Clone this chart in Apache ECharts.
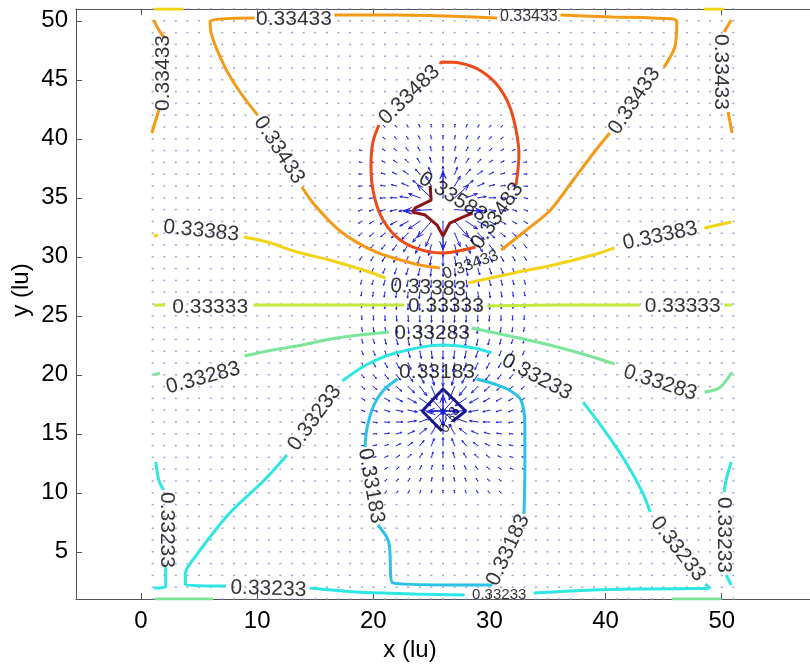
<!DOCTYPE html>
<html>
<head>
<meta charset="utf-8">
<script src="https://cdn.jsdelivr.net/npm/echarts@6/dist/echarts.min.js"></script>
<style>html,body{margin:0;padding:0;background:#fff}#chart{width:810px;height:666px}</style>
</head>
<body>
<div id="chart"></div>
<script>
// axis ticks
var xTicks = [0, 10, 20, 30, 40, 50];
var yTicks = [5, 10, 15, 20, 25, 30, 35, 40, 45, 50];
// lattice nodes of the quiver grid
var gridX = [1,2,3,4,5,6,7,8,9,10,11,12,13,14,15,16,17,18,19,20,21,22,23,24,25,26,27,28,29,30,31,32,33,34,35,36,37,38,39,40,41,42,43,44,45,46,47,48,49,50,51];
var gridY = [1,2,3,4,5,6,7,8,9,10,11,12,13,14,15,16,17,18,19,20,21,22,23,24,25,26,27,28,29,30,31,32,33,34,35,36,37,38,39,40,41,42,43,44,45,46,47,48,49,50,51];

// contour lines per level, split where the inline labels sit
var lines33133 = [
  [[26.85,16.08],[27.95,16.93],[26.0,18.80],[24.21,16.93],[25.91,15.24]]
];
var lines33183 = [
  [[22.09,19.64],[20.90,18.71],[20.05,17.44],[19.46,15.49],[19.29,13.88]],
  [[20.39,7.27],[21.33,5.83],[21.67,2.36],[27.02,2.19],[30.25,2.19]],
  [[32.97,8.20],[33.05,11.93],[33.05,15.75],[32.71,17.86],[31.69,18.71],[30.42,19.22],[28.89,19.64]]
];
var lines33233 = [
  [[7.31,2.10],[3.82,2.19],[3.82,3.20],[4.33,4.14],[7.48,8.12],[10.62,11.08],[12.57,13.20]],
  [[17.33,19.47],[19.37,20.83],[21.92,21.85],[25.91,22.53],[28.72,22.27],[30.16,21.85]],
  [[38.06,17.69],[39.76,15.49],[41.63,12.78],[43.16,10.07],[43.84,8.37]],
  [[48.60,2.27],[48.94,1.93],[43.16,1.85],[38.91,1.76],[33.81,1.51]],
  [[27.87,1.34],[23.62,1.42],[18.52,1.59],[14.53,1.93]],
  [[1.27,12.61],[1.53,11.08],[1.95,10.24]],
  [[2.12,3.71],[2.12,2.02],[1.10,1.93]],
  [[50.81,12.61],[50.38,11.08],[50.21,10.07]],
  [[50.38,3.03],[50.81,2.19]]
];
var lines33283 = [
  [[1.10,19.98],[1.61,20.15]],
  [[8.92,21.59],[11.30,22.10],[13.42,22.44],[16.82,23.12],[21.33,23.63]],
  [[28.46,23.97],[32.12,23.20],[35.51,22.44],[38.91,21.51],[40.78,20.92]],
  [[48.51,18.54],[49.79,18.88],[50.89,20.24]],
  [[1.19,1],[6.2,1]],
  [[45.7,1],[49.96,1]]
];
var lines33333 = [
  [[1.10,25.92],[2.04,25.92]],
  [[9.69,25.92],[15.12,25.92],[22.68,25.92]],
  [[29.82,25.83],[35.51,25.92],[42.99,25.92]],
  [[50.21,25.92],[50.89,25.92]]
];
var lines33383 = [
  [[1.10,31.76],[1.45,31.85]],
  [[8.84,31.68],[10.88,31.25],[13.42,30.41],[16.23,29.73],[19.12,28.88],[21.07,28.20]],
  [[28.12,27.78],[32.12,28.63],[35.51,29.31],[38.91,30.15],[40.78,30.75]],
  [[48.51,32.44],[50.81,32.95]],
  [[1.1,51],[3.65,51]],
  [[48.5,51],[50.2,51]]
];
var lines33433 = [
  [[16.65,50.49],[21.92,50.49],[26.17,50.41],[30.67,50.24]],
  [[36.11,50.49],[40.61,50.32],[44.01,50.24],[46.13,49.98],[45.96,47.78],[45.03,46.08]],
  [[40.36,40.49],[39.17,39.05],[37.21,36.51],[35.26,33.97],[32.97,32.10],[31.01,30.58]],
  [[25.74,29.05],[23.62,29.39],[20.22,30.41],[17.25,32.10],[14.95,34.39],[13.85,35.92]],
  [[10.03,42.02],[8.58,43.88],[7.22,46.08],[6.03,48.97],[5.95,49.98],[9.77,50.24]],
  [[1.10,50.07],[1.53,49.22],[1.95,48.63]],
  [[1.53,42.44],[0.93,40.49]],
  [[50.81,50.07],[50.21,49.05]],
  [[50.55,42.27],[50.89,40.49]]
];
var lines33483 = [
  [[25.74,46.34],[25.91,46.51],[27.44,46.42],[29.14,45.83],[30.67,44.56],[31.69,42.86],[32.29,40.75],[32.54,38.63],[32.29,36.08]],
  [[28.80,30.83],[25.91,30.32],[23.62,30.75],[21.92,31.76],[20.65,33.47],[19.97,35.66],[19.80,37.78],[19.97,39.73],[20.48,41.17]]
];
var lines33583 = [
  [[24.89,36.0],[24.98,34.81],[23.62,34.14],[23.36,33.80],[24.47,33.54],[25.49,32.69],[26.0,31.76],[26.59,32.86],[27.70,33.37],[28.55,33.71]]
];

// inline labels: x, y, rotation, text, font size
var contourLabels = [
  [13.17,50.15,0,'0.33433',21], [33.39,50.32,0,'0.33433',16], [11.89,39.05,-57,'0.33433',21],
  [42.48,43.20,56,'0.33433',21], [28.38,29.31,20,'0.33433',16], [1.95,45.58,90,'0.33433',21],
  [49.96,45.66,-90,'0.33433',21],
  [23.11,43.71,44,'0.33483',21], [30.67,33.46,55,'0.33483',21],
  [26.85,35.07,-32,'0.33583',21],
  [5.18,32.19,-6,'0.33383',21], [24.72,27.36,-3,'0.33383',21], [44.69,31.76,12,'0.33383',21],
  [5.95,25.75,0,'0.33333',21], [26.25,25.83,0,'0.33333',21], [46.64,25.83,0,'0.33333',21],
  [5.35,19.73,15,'0.33283',21], [25.06,23.54,0,'0.33283',21], [44.69,19.31,-18,'0.33283',21],
  [10.96,1.85,-2,'0.33233',21], [30.84,1.34,0,'0.33233',15], [14.95,16.34,54,'0.33233',21],
  [34.07,19.81,-28,'0.33233',21], [46.22,5.24,-52,'0.33233',21], [2.21,6.85,-90,'0.33233',21],
  [50.21,6.42,-90,'0.33233',21],
  [25.49,20.24,0,'0.33183',21], [19.80,10.58,-80,'0.33183',21], [31.61,5.15,65,'0.33183',21],
  [26.59,16.17,60,'0.33',14]
];

// visible velocity arrows: x, y, u, v (lu); remaining nodes are near-zero
var arrows = [
  [21,41,-0.14,0.13],[22,41,-0.13,0.16],[23,41,-0.11,0.19],[24,41,-0.08,0.22],[25,41,-0.04,0.24],[26,41,0,0.24],[27,41,0.04,0.24],[28,41,0.08,0.22],[29,41,0.11,0.19],[30,41,0.13,0.16],[31,41,0.14,0.13],
  [21,40,-0.18,0.14],[22,40,-0.17,0.18],[23,40,-0.15,0.22],[24,40,-0.11,0.26],[25,40,-0.06,0.29],[26,40,0,0.30],[27,40,0.06,0.29],[28,40,0.11,0.26],[29,40,0.15,0.22],[30,40,0.17,0.18],[31,40,0.18,0.14],
  [21,39,-0.22,0.14],[22,39,-0.22,0.19],[23,39,-0.20,0.25],[24,39,-0.16,0.31],[25,39,-0.09,0.35],[26,39,0,0.37],[27,39,0.09,0.35],[28,39,0.16,0.31],[29,39,0.20,0.25],[30,39,0.22,0.19],[31,39,0.22,0.14],
  [21,38,-0.27,0.13],[22,38,-0.28,0.19],[23,38,-0.27,0.27],[24,38,-0.23,0.37],[25,38,-0.14,0.45],[26,38,0,0.49],[27,38,0.14,0.45],[28,38,0.23,0.37],[29,38,0.27,0.27],[30,38,0.28,0.19],[31,38,0.27,0.13],
  [21,37,-0.33,0.10],[22,37,-0.36,0.17],[23,37,-0.40,0.28],[24,37,-0.37,0.43],[25,37,-0.24,0.60],[26,37,0,0.68],[27,37,0.24,0.60],[28,37,0.37,0.43],[29,37,0.40,0.28],[30,37,0.36,0.17],[31,37,0.33,0.10],
  [21,36,-0.38,0.05],[22,36,-0.46,0.12],[23,36,-0.55,0.24],[24,36,-0.60,0.47],[25,36,-0.48,0.83],[26,36,0,1.07],[27,36,0.48,0.83],[28,36,0.60,0.47],[29,36,0.55,0.24],[30,36,0.46,0.12],[31,36,0.38,0.05],
  [21,35,-0.43,-0.03],[22,35,-0.54,0.01],[23,35,-0.72,0.11],[24,35,-0.96,0.35],[25,35,-1.20,1.07],[26,35,0,2.27],[27,35,1.20,1.07],[28,35,0.96,0.35],[29,35,0.72,0.11],[30,35,0.54,0.01],[31,35,0.43,-0.03],
  [21,34,-0.44,-0.13],[22,34,-0.57,-0.13],[23,34,-0.80,-0.14],[24,34,-1.20,-0.14],[25,34,-2.40,-0.14],[27,34,2.40,-0.14],[28,34,1.20,-0.14],[29,34,0.80,-0.14],[30,34,0.57,-0.13],[31,34,0.44,-0.13],
  [21,33,-0.42,-0.23],[22,33,-0.53,-0.28],[23,33,-0.72,-0.39],[24,33,-0.96,-0.63],[25,33,-1.20,-1.35],[26,33,0,-2.40],[27,33,1.20,-1.35],[28,33,0.96,-0.63],[29,33,0.72,-0.39],[30,33,0.53,-0.28],[31,33,0.42,-0.23],
  [21,32,-0.37,-0.31],[22,32,-0.44,-0.39],[23,32,-0.55,-0.53],[24,32,-0.60,-0.76],[25,32,-0.48,-1.12],[26,32,0,-1.36],[27,32,0.48,-1.12],[28,32,0.60,-0.76],[29,32,0.55,-0.53],[30,32,0.44,-0.39],[31,32,0.37,-0.31],
  [21,31,-0.30,-0.36],[22,31,-0.34,-0.45],[23,31,-0.40,-0.57],[24,31,-0.37,-0.72],[25,31,-0.24,-0.89],[26,31,0,-0.97],[27,31,0.24,-0.89],[28,31,0.37,-0.72],[29,31,0.40,-0.57],[30,31,0.34,-0.45],[31,31,0.30,-0.36],
  [21,30,-0.23,-0.40],[22,30,-0.25,-0.47],[23,30,-0.25,-0.56],[24,30,-0.21,-0.66],[25,30,-0.13,-0.75],[26,30,0,-0.79],[27,30,0.13,-0.75],[28,30,0.21,-0.66],[29,30,0.25,-0.56],[30,30,0.25,-0.47],[31,30,0.23,-0.40],
  [21,29,-0.17,-0.41],[22,29,-0.17,-0.47],[23,29,-0.17,-0.54],[24,29,-0.13,-0.61],[25,29,-0.08,-0.66],[26,29,0,-0.68],[27,29,0.08,-0.66],[28,29,0.13,-0.61],[29,29,0.17,-0.54],[30,29,0.17,-0.47],[31,29,0.17,-0.41],
  [21,28,-0.12,-0.42],[22,28,-0.12,-0.47],[23,28,-0.11,-0.52],[24,28,-0.08,-0.57],[25,28,-0.05,-0.61],[26,28,0,-0.62],[27,28,0.05,-0.61],[28,28,0.08,-0.57],[29,28,0.11,-0.52],[30,28,0.12,-0.47],[31,28,0.12,-0.42],
  [21,27,-0.07,-0.42],[22,27,-0.07,-0.47],[23,27,-0.06,-0.51],[24,27,-0.05,-0.55],[25,27,-0.02,-0.57],[26,27,0,-0.58],[27,27,0.02,-0.57],[28,27,0.05,-0.55],[29,27,0.06,-0.51],[30,27,0.07,-0.47],[31,27,0.07,-0.42],
  [21,26,-0.02,-0.42],[22,26,-0.02,-0.46],[23,26,-0.02,-0.50],[24,26,-0.01,-0.54],[25,26,-0.01,-0.56],[26,26,0,-0.57],[27,26,0.01,-0.56],[28,26,0.01,-0.54],[29,26,0.02,-0.50],[30,26,0.02,-0.46],[31,26,0.02,-0.42],
  [21,25,0.02,-0.42],[22,25,0.02,-0.46],[23,25,0.02,-0.50],[24,25,0.01,-0.54],[25,25,0.01,-0.56],[26,25,0,-0.57],[27,25,-0.01,-0.56],[28,25,-0.01,-0.54],[29,25,-0.02,-0.50],[30,25,-0.02,-0.46],[31,25,-0.02,-0.42],
  [21,24,0.07,-0.42],[22,24,0.07,-0.47],[23,24,0.06,-0.51],[24,24,0.05,-0.55],[25,24,0.02,-0.57],[26,24,0,-0.58],[27,24,-0.02,-0.57],[28,24,-0.05,-0.55],[29,24,-0.06,-0.51],[30,24,-0.07,-0.47],[31,24,-0.07,-0.42],
  [21,23,0.12,-0.42],[22,23,0.12,-0.47],[23,23,0.11,-0.52],[24,23,0.08,-0.57],[25,23,0.05,-0.61],[26,23,0,-0.62],[27,23,-0.05,-0.61],[28,23,-0.08,-0.57],[29,23,-0.11,-0.52],[30,23,-0.12,-0.47],[31,23,-0.12,-0.42],
  [21,22,0.17,-0.41],[22,22,0.17,-0.47],[23,22,0.17,-0.54],[24,22,0.13,-0.61],[25,22,0.08,-0.66],[26,22,0,-0.68],[27,22,-0.08,-0.66],[28,22,-0.13,-0.61],[29,22,-0.17,-0.54],[30,22,-0.17,-0.47],[31,22,-0.17,-0.41],
  [21,21,0.23,-0.40],[22,21,0.25,-0.47],[23,21,0.25,-0.56],[24,21,0.21,-0.66],[25,21,0.13,-0.75],[26,21,0,-0.79],[27,21,-0.13,-0.75],[28,21,-0.21,-0.66],[29,21,-0.25,-0.56],[30,21,-0.25,-0.47],[31,21,-0.23,-0.40],
  [21,20,0.30,-0.36],[22,20,0.34,-0.45],[23,20,0.40,-0.57],[24,20,0.37,-0.72],[25,20,0.24,-0.89],[26,20,0,-0.97],[27,20,-0.24,-0.89],[28,20,-0.37,-0.72],[29,20,-0.40,-0.57],[30,20,-0.34,-0.45],[31,20,-0.30,-0.36],
  [21,19,0.37,-0.31],[22,19,0.44,-0.39],[23,19,0.55,-0.53],[24,19,0.60,-0.76],[25,19,0.48,-1.12],[26,19,0,-1.36],[27,19,-0.48,-1.12],[28,19,-0.60,-0.76],[29,19,-0.55,-0.53],[30,19,-0.44,-0.39],[31,19,-0.37,-0.31],
  [21,18,0.42,-0.23],[22,18,0.53,-0.28],[23,18,0.72,-0.39],[24,18,0.96,-0.63],[25,18,1.20,-1.35],[26,18,0,-2.40],[27,18,-1.20,-1.35],[28,18,-0.96,-0.63],[29,18,-0.72,-0.39],[30,18,-0.53,-0.28],[31,18,-0.42,-0.23],
  [21,17,0.44,-0.13],[22,17,0.57,-0.13],[23,17,0.80,-0.14],[24,17,1.20,-0.14],[25,17,2.40,-0.14],[27,17,-2.40,-0.14],[28,17,-1.20,-0.14],[29,17,-0.80,-0.14],[30,17,-0.57,-0.13],[31,17,-0.44,-0.13],
  [21,16,0.43,-0.03],[22,16,0.54,0.01],[23,16,0.72,0.11],[24,16,0.96,0.35],[25,16,1.20,1.07],[26,16,0,2.27],[27,16,-1.20,1.07],[28,16,-0.96,0.35],[29,16,-0.72,0.11],[30,16,-0.54,0.01],[31,16,-0.43,-0.03],
  [21,15,0.38,0.05],[22,15,0.46,0.12],[23,15,0.55,0.24],[24,15,0.60,0.47],[25,15,0.48,0.83],[26,15,0,1.07],[27,15,-0.48,0.83],[28,15,-0.60,0.47],[29,15,-0.55,0.24],[30,15,-0.46,0.12],[31,15,-0.38,0.05],
  [21,14,0.33,0.10],[22,14,0.36,0.17],[23,14,0.40,0.28],[24,14,0.37,0.43],[25,14,0.24,0.60],[26,14,0,0.68],[27,14,-0.24,0.60],[28,14,-0.37,0.43],[29,14,-0.40,0.28],[30,14,-0.36,0.17],[31,14,-0.33,0.10],
  [21,13,0.27,0.13],[22,13,0.28,0.19],[23,13,0.27,0.27],[24,13,0.23,0.37],[25,13,0.14,0.45],[26,13,0,0.49],[27,13,-0.14,0.45],[28,13,-0.23,0.37],[29,13,-0.27,0.27],[30,13,-0.28,0.19],[31,13,-0.27,0.13],
  [21,12,0.22,0.14],[22,12,0.22,0.19],[23,12,0.20,0.25],[24,12,0.16,0.31],[25,12,0.09,0.35],[26,12,0,0.37],[27,12,-0.09,0.35],[28,12,-0.16,0.31],[29,12,-0.20,0.25],[30,12,-0.22,0.19],[31,12,-0.22,0.14],
  [21,11,0.18,0.14],[22,11,0.17,0.18],[23,11,0.15,0.22],[24,11,0.11,0.26],[25,11,0.06,0.29],[26,11,0,0.30],[27,11,-0.06,0.29],[28,11,-0.11,0.26],[29,11,-0.15,0.22],[30,11,-0.17,0.18],[31,11,-0.18,0.14],
  [21,10,0.14,0.13],[22,10,0.13,0.16],[23,10,0.11,0.19],[24,10,0.08,0.22],[25,10,0.04,0.24],[26,10,0,0.24],[27,10,-0.04,0.24],[28,10,-0.08,0.22],[29,10,-0.11,0.19],[30,10,-0.13,0.16],[31,10,-0.14,0.13]
];
// weaker arrows in the flanking columns (x 19, 20, 32, 33)
var arrowsOuter = [
  [19,39,-0.20,0.06],[20,39,-0.21,0.10],[32,39,0.21,0.10],[33,39,0.20,0.06],
  [19,38,-0.22,0.05],[20,38,-0.25,0.08],[32,38,0.25,0.08],[33,38,0.22,0.05],
  [19,37,-0.25,0.02],[20,37,-0.29,0.05],[32,37,0.29,0.05],[33,37,0.25,0.02],
  [19,36,-0.28,-0.02],[20,36,-0.32,0.01],[32,36,0.32,0.01],[33,36,0.28,-0.02],
  [19,35,-0.29,-0.07],[20,35,-0.35,-0.06],[32,35,0.35,-0.06],[33,35,0.29,-0.07],
  [19,34,-0.29,-0.12],[20,34,-0.36,-0.13],[32,34,0.36,-0.13],[33,34,0.29,-0.12],
  [19,33,-0.28,-0.17],[20,33,-0.34,-0.20],[32,33,0.34,-0.20],[33,33,0.28,-0.17],
  [19,32,-0.26,-0.22],[20,32,-0.31,-0.26],[32,32,0.31,-0.26],[33,32,0.26,-0.22],
  [19,31,-0.22,-0.26],[20,31,-0.26,-0.31],[32,31,0.26,-0.31],[33,31,0.22,-0.26],
  [19,30,-0.18,-0.29],[20,30,-0.21,-0.34],[32,30,0.21,-0.34],[33,30,0.18,-0.29],
  [19,29,-0.14,-0.31],[20,29,-0.16,-0.36],[32,29,0.16,-0.36],[33,29,0.14,-0.31],
  [19,28,-0.10,-0.33],[20,28,-0.11,-0.37],[32,28,0.11,-0.37],[33,28,0.10,-0.33],
  [19,27,-0.06,-0.33],[20,27,-0.06,-0.37],[32,27,0.06,-0.37],[33,27,0.06,-0.33],
  [19,26,-0.02,-0.34],[20,26,-0.02,-0.38],[32,26,0.02,-0.38],[33,26,0.02,-0.34],
  [19,25,0.02,-0.34],[20,25,0.02,-0.38],[32,25,-0.02,-0.38],[33,25,-0.02,-0.34],
  [19,24,0.06,-0.33],[20,24,0.06,-0.37],[32,24,-0.06,-0.37],[33,24,-0.06,-0.33],
  [19,23,0.10,-0.33],[20,23,0.11,-0.37],[32,23,-0.11,-0.37],[33,23,-0.10,-0.33],
  [19,22,0.14,-0.31],[20,22,0.16,-0.36],[32,22,-0.16,-0.36],[33,22,-0.14,-0.31],
  [19,21,0.18,-0.29],[20,21,0.21,-0.34],[32,21,-0.21,-0.34],[33,21,-0.18,-0.29],
  [19,20,0.22,-0.26],[20,20,0.26,-0.31],[32,20,-0.26,-0.31],[33,20,-0.22,-0.26],
  [19,19,0.26,-0.22],[20,19,0.31,-0.26],[32,19,-0.31,-0.26],[33,19,-0.26,-0.22],
  [19,18,0.28,-0.17],[20,18,0.34,-0.20],[32,18,-0.34,-0.20],[33,18,-0.28,-0.17],
  [19,17,0.29,-0.12],[20,17,0.36,-0.13],[32,17,-0.36,-0.13],[33,17,-0.29,-0.12],
  [19,16,0.29,-0.07],[20,16,0.35,-0.06],[32,16,-0.35,-0.06],[33,16,-0.29,-0.07],
  [19,15,0.28,-0.02],[20,15,0.32,0.01],[32,15,-0.32,0.01],[33,15,-0.28,-0.02],
  [19,14,0.25,0.02],[20,14,0.29,0.05],[32,14,-0.29,0.05],[33,14,-0.25,0.02],
  [19,13,0.22,0.05],[20,13,0.25,0.08],[32,13,-0.25,0.08],[33,13,-0.22,0.05],
  [19,12,0.20,0.06],[20,12,0.21,0.10],[32,12,-0.21,0.10],[33,12,-0.20,0.06]
];

var chart = echarts.init(document.getElementById('chart'), null, {renderer: 'canvas'});
var FONT = 'Liberation Sans, Arial, sans-serif';

var levelStyles = [
  {lines: lines33133, color: '#16168f', smooth: false},
  {lines: lines33183, color: '#2ac2e8', smooth: 0.3},
  {lines: lines33233, color: '#2ee6e2', smooth: 0.3},
  {lines: lines33283, color: '#7be69a', smooth: 0.3},
  {lines: lines33333, color: '#c2ea3c', smooth: 0.3},
  {lines: lines33383, color: '#f2d414', smooth: 0.3},
  {lines: lines33433, color: '#f59a16', smooth: 0.3},
  {lines: lines33483, color: '#ee4a18', smooth: 0.3},
  {lines: lines33583, color: '#8e1414', smooth: false}
];

var series = [];

// background lattice dots (near-zero quiver arrows)
var dots = [];
for (var i = 0; i < gridX.length; i++) {
  for (var j = 0; j < gridY.length; j++) {
    dots.push([gridX[i], gridY[j]]);
  }
}
series.push({
  type: 'scatter', data: dots, symbol: 'rect', symbolSize: [2, 1.5],
  itemStyle: {color: '#8a8ac8'}, silent: true, z: 1
});

// quiver
series.push({
  type: 'custom',
  data: arrows.concat(arrowsOuter),
  encode: {x: 0, y: 1},
  silent: true,
  z: 2,
  renderItem: function(params, api) {
    var x = api.value(0), y = api.value(1), u = api.value(2), v = api.value(3);
    var p0 = api.coord([x, y]);
    var p1 = api.coord([x + u, y + v]);
    var dx = p1[0] - p0[0], dy = p1[1] - p0[1];
    var len = Math.sqrt(dx * dx + dy * dy) || 1;
    var ux = dx / len, uy = dy / len;
    var hl = len * 0.3, hw = len * 0.12;
    var bx = p1[0] - ux * hl, by = p1[1] - uy * hl;
    return {
      type: 'group',
      children: [
        {type: 'line', shape: {x1: p0[0], y1: p0[1], x2: p1[0], y2: p1[1]},
          style: {stroke: '#2020e0', lineWidth: 1}},
        {type: 'polyline', shape: {points: [[bx - uy * hw, by + ux * hw], p1, [bx + uy * hw, by - ux * hw]]},
          style: {stroke: '#2020e0', fill: null, lineWidth: 1}}
      ]
    };
  }
});

// contour lines
levelStyles.forEach(function(lv) {
  lv.lines.forEach(function(seg) {
    series.push({
      type: 'line', data: seg, showSymbol: false, smooth: lv.smooth,
      lineStyle: {color: lv.color, width: 3}, silent: true, z: 3
    });
  });
});

// inline labels
series.push({
  type: 'scatter', symbolSize: 0, silent: true, z: 5,
  data: contourLabels.map(function(l) {
    return {
      value: [l[0], l[1]],
      label: {show: true, position: 'inside', formatter: l[3], rotate: l[2],
        fontSize: l[4], color: '#000', fontFamily: FONT}
    };
  })
});

var axisLineStyle = {color: '#555', width: 1};

chart.setOption({
  animation: false,
  backgroundColor: '#fff',
  grid: {left: 76, top: 9, right: -10, bottom: 67, show: false},
  xAxis: [{
    type: 'value', min: -5.6, max: 57.6, position: 'bottom',
    axisLine: {show: true, onZero: false, lineStyle: axisLineStyle},
    axisTick: {show: true, inside: true, length: 6, customValues: xTicks, lineStyle: axisLineStyle},
    axisLabel: {customValues: xTicks, fontSize: 24, color: '#000', fontFamily: FONT, margin: 10},
    splitLine: {show: false}
  }, {
    type: 'value', min: -5.6, max: 57.6, position: 'top',
    axisLine: {show: true, onZero: false, lineStyle: axisLineStyle},
    axisTick: {show: true, inside: true, length: 6, customValues: xTicks, lineStyle: axisLineStyle},
    axisLabel: {show: false},
    splitLine: {show: false}
  }],
  yAxis: [{
    type: 'value', min: 1, max: 51, position: 'left',
    axisLine: {show: true, onZero: false, lineStyle: axisLineStyle},
    axisTick: {show: true, inside: true, length: 6, customValues: yTicks, lineStyle: axisLineStyle},
    axisLabel: {customValues: yTicks, fontSize: 24, color: '#000', fontFamily: FONT, margin: 8},
    splitLine: {show: false}
  }],
  graphic: [
    {type: 'text', x: 410, y: 650, style: {text: 'x (lu)', font: '24px ' + FONT, fill: '#000',
      textAlign: 'center', textVerticalAlign: 'middle'}},
    {type: 'text', x: 21, y: 290, rotation: Math.PI / 2, style: {text: 'y (lu)', font: '24px ' + FONT, fill: '#000',
      textAlign: 'center', textVerticalAlign: 'middle'}}
  ],
  series: series
});
</script>
</body>
</html>
